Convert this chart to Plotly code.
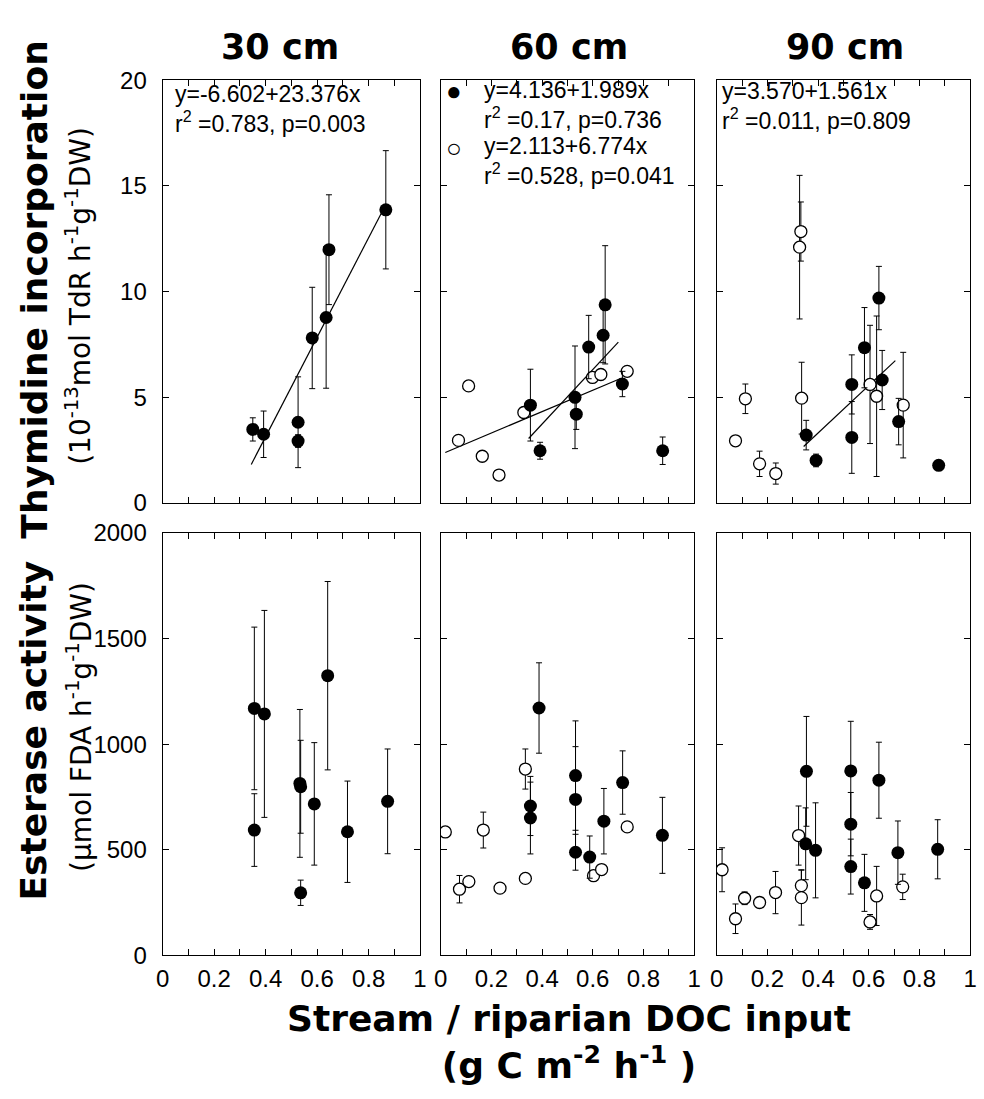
import plotly.graph_objects as go
from plotly.subplots import make_subplots

W, H = 984, 1099

# ---- data --------------------------------------------------------------
# Thymidine incorporation (10^-13 mol TdR h^-1 g^-1 DW)
THY30_X = [0.350, 0.392, 0.526, 0.526, 0.581, 0.635, 0.646, 0.867]
THY30_Y = [3.47, 3.24, 3.81, 2.92, 7.80, 8.77, 11.98, 13.87]
THY30_E = [0.55, 1.10, 2.15, 0.30, 2.40, 3.35, 2.60, 2.80]

THY60_X = [0.354, 0.392, 0.530, 0.535, 0.584, 0.641, 0.649, 0.717, 0.876]
THY60_Y = [4.62, 2.46, 4.99, 4.19, 7.37, 7.93, 9.37, 5.62, 2.46]
THY60_E = [1.70, 0.40, 2.43, 0.72, 1.50, 1.30, 2.80, 0.60, 0.65]
THY60_OPEN_X = [0.070, 0.110, 0.164, 0.230, 0.328, 0.599, 0.632, 0.736]
THY60_OPEN_Y = [2.95, 5.53, 2.20, 1.31, 4.27, 5.93, 6.07, 6.22]

THY90_X = [0.353, 0.392, 0.533, 0.533, 0.583, 0.640, 0.653, 0.718, 0.876]
THY90_Y = [3.20, 2.00, 5.60, 3.09, 7.34, 9.69, 5.81, 3.84, 1.77]
THY90_E = [0.70, 0.30, 1.40, 1.70, 1.90, 1.50, 1.40, 1.10, 0.00]
THY90_OPEN_X = [0.074, 0.113, 0.169, 0.233, 0.332, 0.327, 0.335, 0.605, 0.631, 0.736]
THY90_OPEN_Y = [2.93, 4.92, 1.84, 1.38, 12.84, 12.10, 4.95, 5.60, 5.04, 4.62]
THY90_OPEN_E = [0.00, 0.70, 0.60, 0.50, 1.40, 3.40, 1.70, 2.80, 3.80, 2.50]

# regression lines (end points as drawn)
FIT30_X, FIT30_Y = [0.344, 0.850], [1.81, 13.72]
FIT60_X, FIT60_Y = [0.347, 0.701], [3.04, 7.60]
FIT60_OPEN_X, FIT60_OPEN_Y = [0.018, 0.710], [2.38, 5.88]
FIT90_X, FIT90_Y = [0.343, 0.705], [2.66, 6.73]

# Esterase activity (umol FDA h^-1 g^-1 DW)
EST30_X = [0.356, 0.356, 0.395, 0.533, 0.536, 0.536, 0.589, 0.641, 0.718, 0.874]
EST30_Y = [1169, 593, 1143, 814, 798, 296, 717, 1324, 585, 729]
EST30_E = [385, 172, 490, 350, 220, 60, 290, 446, 240, 248]

EST60_X = [0.354, 0.354, 0.388, 0.532, 0.532, 0.532, 0.588, 0.644, 0.718, 0.875]
EST60_Y = [707, 650, 1171, 851, 738, 488, 465, 635, 818, 568]
EST60_E = [140, 170, 214, 259, 250, 85, 100, 155, 150, 180]
EST60_OPEN_X = [0.018, 0.074, 0.111, 0.168, 0.234, 0.334, 0.334, 0.603, 0.635, 0.736]
EST60_OPEN_Y = [584, 313, 349, 593, 318, 882, 364, 377, 406, 608]
EST60_OPEN_E = [0, 65, 0, 85, 0, 95, 0, 0, 0, 0]

EST90_X = [0.354, 0.351, 0.390, 0.529, 0.529, 0.529, 0.583, 0.640, 0.715, 0.872]
EST90_Y = [871, 528, 497, 873, 621, 420, 343, 829, 486, 502]
EST90_E = [260, 170, 225, 235, 150, 130, 135, 180, 150, 140]
EST90_OPEN_X = [0.021, 0.074, 0.110, 0.169, 0.232, 0.323, 0.334, 0.334, 0.605, 0.631, 0.734]
EST90_OPEN_Y = [405, 173, 270, 250, 297, 567, 330, 273, 158, 281, 324]
EST90_OPEN_E = [104, 70, 30, 0, 100, 140, 75, 130, 35, 140, 60]

X_LABEL_TICKS = [0, 0.2, 0.4, 0.6, 0.8, 1.0]
X_LABEL_TEXT = ["0", "0.2", "0.4", "0.6", "0.8", "1"]
THY_TICKS = [0, 5, 10, 15, 20]
EST_TICKS = [0, 500, 1000, 1500, 2000]

DEPTHS = ["30 cm", "60 cm", "90 cm"]

# ---- layout in pixels -----------------------------------------------------
COLS_PX = [(158, 419), (440, 697), (720, 977)]
ROWS_PX = [(68, 501), (532, 965)]

REG = "Liberation Sans, Arial, Helvetica, sans-serif"
BOLD = "DejaVu Sans, Arial Black, sans-serif"


def px(x):
    return x / W


def py(y):
    return 1 - y / H


def add_points(fig, x, y, err, row, col, hollow=False):
    marker = dict(symbol="circle", size=13, color="black", line=dict(width=0))
    if hollow:
        marker = dict(symbol="circle", size=12, color="white",
                      line=dict(color="black", width=1.3))
    fig.add_trace(
        go.Scatter(
            x=x, y=y, mode="markers", marker=marker, showlegend=False,
            error_y=dict(type="data", array=err, visible=err is not None,
                         color="black", thickness=1, width=3),
        ),
        row=row, col=col,
    )


def add_fit(fig, x, y, row, col):
    fig.add_trace(
        go.Scatter(x=x, y=y, mode="lines", showlegend=False,
                   line=dict(color="black", width=1.2)),
        row=row, col=col,
    )


fig = make_subplots(rows=2, cols=3)

# top row: thymidine
add_fit(fig, FIT30_X, FIT30_Y, 1, 1)
add_points(fig, THY30_X, THY30_Y, THY30_E, 1, 1)

add_fit(fig, FIT60_OPEN_X, FIT60_OPEN_Y, 1, 2)
add_fit(fig, FIT60_X, FIT60_Y, 1, 2)
add_points(fig, THY60_OPEN_X, THY60_OPEN_Y, None, 1, 2, hollow=True)
add_points(fig, THY60_X, THY60_Y, THY60_E, 1, 2)

add_fit(fig, FIT90_X, FIT90_Y, 1, 3)
add_points(fig, THY90_OPEN_X, THY90_OPEN_Y, THY90_OPEN_E, 1, 3, hollow=True)
add_points(fig, THY90_X, THY90_Y, THY90_E, 1, 3)

# bottom row: esterase
add_points(fig, EST30_X, EST30_Y, EST30_E, 2, 1)
add_points(fig, EST60_OPEN_X, EST60_OPEN_Y, EST60_OPEN_E, 2, 2, hollow=True)
add_points(fig, EST60_X, EST60_Y, EST60_E, 2, 2)
add_points(fig, EST90_OPEN_X, EST90_OPEN_Y, EST90_OPEN_E, 2, 3, hollow=True)
add_points(fig, EST90_X, EST90_Y, EST90_E, 2, 3)

axis_style = dict(
    showline=True, linecolor="black", linewidth=1.3, mirror="ticks",
    ticks="inside", ticklen=6, tickwidth=1, tickcolor="black",
    showgrid=False, zeroline=False,
    tickfont=dict(family=REG, size=24, color="black"),
)

for r, (top, bottom) in enumerate(ROWS_PX, start=1):
    for c, (left, right) in enumerate(COLS_PX, start=1):
        # labelled ticks every 0.2, plain inside ticks every 0.1
        fig.update_xaxes(
            domain=[px(left), px(right)], range=[0, 1],
            tickvals=X_LABEL_TICKS, ticktext=X_LABEL_TEXT,
            minor=dict(ticks="inside", dtick=0.1, tick0=0, ticklen=6,
                       tickwidth=1, tickcolor="black", showgrid=False),
            showticklabels=(r == 2), ticklabelstandoff=2,
            row=r, col=c, **axis_style,
        )
        fig.update_yaxes(
            domain=[py(bottom), py(top)],
            range=[0, 20] if r == 1 else [0, 2000],
            tickvals=THY_TICKS if r == 1 else EST_TICKS,
            showticklabels=(c == 1), ticklabelstandoff=10,
            row=r, col=c, **axis_style,
        )

annotations = []


def note(text, x, y, size, family=REG, xanchor="left", angle=0):
    annotations.append(dict(
        text=text, x=px(x), y=py(y), xref="paper", yref="paper",
        xanchor=xanchor, yanchor="middle", showarrow=False, textangle=angle,
        align="left" if xanchor == "left" else "center",
        font=dict(family=family, size=size, color="black"),
    ))


# column headers
for depth, xc in zip(DEPTHS, [277, 570, 850]):
    note(f"<b>{depth}</b>", xc, 34, 35, BOLD, "center")

# regression statistics
note("y=-6.602+23.376x<br>r<sup>2</sup> =0.783, p=0.003", 168, 97, 23)

note("\u25cf", 453, 79, 26, REG, "center")
note("y=4.136+1.989x<br>r<sup>2</sup> =0.17, p=0.736", 482, 93, 23)
note("\u25cb", 453, 137, 26, REG, "center")
note("y=2.113+6.774x<br>r<sup>2</sup> =0.528, p=0.041", 482, 151, 23)

note("y=3.570+1.561x<br>r<sup>2</sup> =0.011, p=0.809", 723, 94, 23)

# axis titles
note("<b>Thymidine incorporation</b>", 27, 283, 36, BOLD, "center", -90)
note("(10<sup>-13</sup>mol TdR h<sup>-1</sup>g<sup>-1</sup>DW)", 73, 289, 28,
     "DejaVu Sans, sans-serif", "center", -90)
note("<b>Esterase activity</b>", 27, 735, 36, BOLD, "center", -90)
note("(\u03bcmol FDA h<sup>-1</sup>g<sup>-1</sup>DW)", 73, 731, 28,
     "DejaVu Sans, sans-serif", "center", -90)

note("<b>Stream / riparian DOC input<br>(g C m<sup>-2</sup> h<sup>-1</sup> )</b>",
     570, 1054, 36, BOLD, "center")

fig.update_layout(
    width=W, height=H,
    margin=dict(l=0, r=0, t=0, b=0),
    paper_bgcolor="white", plot_bgcolor="white",
    font=dict(family=REG, color="black"),
    showlegend=False,
    annotations=annotations,
)

fig.write_html(
    "out.html",
    config={"displayModeBar": False},
    post_script="document.body.style.margin = '0px';",
)
